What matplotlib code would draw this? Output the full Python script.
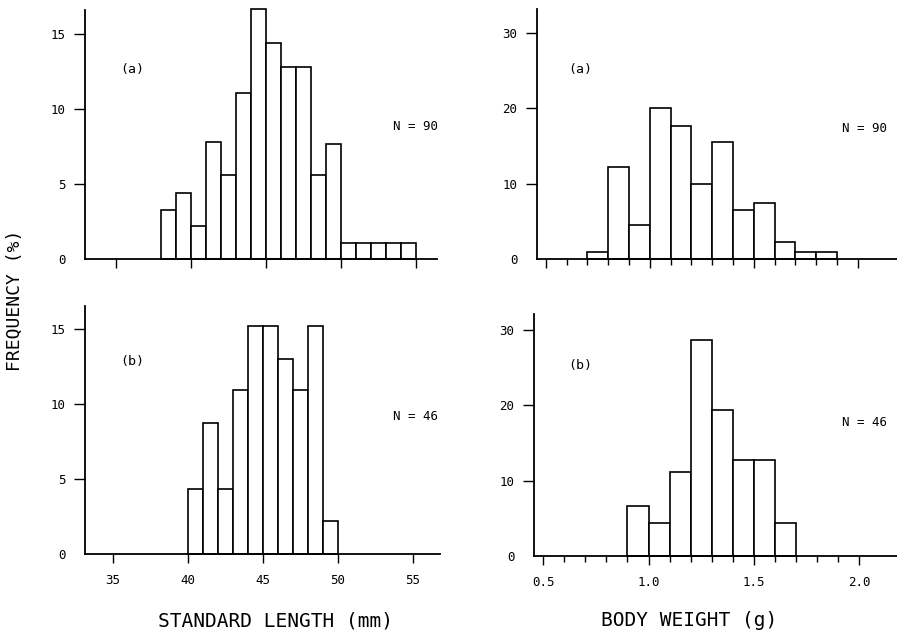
import matplotlib
matplotlib.use("Agg")
import matplotlib.pyplot as plt

# ---------------- data ----------------
# Standard length (mm), 1-mm classes (left edge of each class)
sl_bins_a = [38, 39, 40, 41, 42, 43, 44, 45, 46, 47, 48, 49, 50, 51, 52, 53, 54]
sl_freq_a = [3.3, 4.4, 2.2, 7.8, 5.6, 11.1, 16.7, 14.4, 12.8, 12.8, 5.6, 7.7,
             1.1, 1.1, 1.1, 1.1, 1.1]
sl_bins_b = [40, 41, 42, 43, 44, 45, 46, 47, 48, 49]
sl_freq_b = [4.3, 8.7, 4.3, 10.9, 15.2, 15.2, 13.0, 10.9, 15.2, 2.2]

# Body weight (g), 0.1-g classes (left edge of each class)
bw_bins_a = [0.7, 0.8, 0.9, 1.0, 1.1, 1.2, 1.3, 1.4, 1.5, 1.6, 1.7, 1.8]
bw_freq_a = [0.9, 12.2, 4.5, 20.0, 17.7, 9.9, 15.6, 6.5, 7.5, 2.2, 0.9, 0.9]
bw_bins_b = [0.9, 1.0, 1.1, 1.2, 1.3, 1.4, 1.5, 1.6]
bw_freq_b = [6.6, 4.4, 11.1, 28.6, 19.3, 12.8, 12.7, 4.4]

sl_ticks = [35, 40, 45, 50, 55]
sl_ticklabels = ["35", "40", "45", "50", "55"]
bw_ticks = [0.5, 1.0, 1.5, 2.0]
bw_ticklabels = ["0.5", "1.0", "1.5", "2.0"]
bw_minor = [0.6, 0.7, 0.8, 0.9, 1.1, 1.2, 1.3, 1.4, 1.6, 1.7, 1.8, 1.9]
sl_yticks = [0, 5, 10, 15]
bw_yticks = [0, 10, 20, 30]

panel_tags = ["(a)", "(b)"]
n_labels = ["N = 90", "N = 46"]

# ---------------- figure ----------------
W, H = 897, 641
fig = plt.figure(figsize=(W / 100, H / 100), dpi=100)
FONT = "DejaVu Sans Mono"
plt.rcParams["font.family"] = FONT


def px_axes(x0, x1, ytop, ybot):
    return fig.add_axes([x0 / W, 1 - ybot / H, (x1 - x0) / W, (ybot - ytop) / H])


def style(ax, xticks, xlabels, yticks, show_xlabels, minor=None):
    for s in ("top", "right"):
        ax.spines[s].set_visible(False)
    for s in ("left", "bottom"):
        ax.spines[s].set_linewidth(1.3)
    ax.set_yticks(yticks)
    ax.set_yticklabels([str(v) for v in yticks], fontsize=9)
    ax.set_xticks(xticks)
    if show_xlabels:
        ax.set_xticklabels(xlabels, fontsize=9)
    else:
        ax.set_xticklabels([])
    if minor is not None:
        ax.set_xticks(minor, minor=True)
        ax.tick_params(axis="x", which="minor", direction="out", length=4.5, width=1.0)
    ax.tick_params(axis="y", direction="out", length=8, width=1.0, pad=6)
    ax.tick_params(axis="x", which="major", direction="out", length=6.5, width=1.0, pad=8)
    ax.yaxis.get_major_ticks()[0].tick1line.set_visible(False)


bar_kw = dict(align="edge", facecolor="white", edgecolor="black", linewidth=1.2,
              clip_on=False)

# top-left
ax1 = px_axes(85, 437, 10, 259)
ax1.bar(sl_bins_a, sl_freq_a, width=1.0, **bar_kw)
ax1.set_xlim(32.93, 56.4)
ax1.set_ylim(0, 16.6)
style(ax1, sl_ticks, sl_ticklabels, sl_yticks, False)

# bottom-left
ax2 = px_axes(85, 440, 306, 554)
ax2.bar(sl_bins_b, sl_freq_b, width=1.0, **bar_kw)
ax2.set_xlim(33.13, 56.8)
ax2.set_ylim(0, 16.53)
style(ax2, sl_ticks, sl_ticklabels, sl_yticks, True)

# top-right
ax3 = px_axes(537, 897, 9, 259)
ax3.bar(bw_bins_a, bw_freq_a, width=0.1, **bar_kw)
ax3.set_xlim(0.458, 2.189)
ax3.set_ylim(0, 33.2)
style(ax3, bw_ticks, bw_ticklabels, bw_yticks, False, minor=bw_minor)

# bottom-right
ax4 = px_axes(534, 897, 314, 556)
ax4.bar(bw_bins_b, bw_freq_b, width=0.1, **bar_kw)
ax4.set_xlim(0.457, 2.178)
ax4.set_ylim(0, 32.1)
style(ax4, bw_ticks, bw_ticklabels, bw_yticks, True, minor=bw_minor)

# panel annotations
txt = dict(fontsize=9.5, va="center", ha="left")
ntxt = dict(fontsize=9, va="center", ha="left")
fig.text(120 / W, 1 - 69 / H, panel_tags[0], **txt)
fig.text(120 / W, 1 - 362 / H, panel_tags[1], **txt)
fig.text(568 / W, 1 - 69 / H, panel_tags[0], **txt)
fig.text(568 / W, 1 - 365 / H, panel_tags[1], **txt)
fig.text(393 / W, 1 - 127 / H, n_labels[0], **ntxt)
fig.text(393 / W, 1 - 417 / H, n_labels[1], **ntxt)
fig.text(842 / W, 1 - 129 / H, n_labels[0], **ntxt)
fig.text(842 / W, 1 - 423 / H, n_labels[1], **ntxt)

# axis titles
fig.text(15 / W, 1 - 300 / H, "FREQUENCY (%)", rotation=90, fontsize=13,
         va="center", ha="center")
fig.text(275 / W, 1 - 621 / H, "STANDARD LENGTH (mm)", fontsize=14,
         va="center", ha="center")
fig.text(689 / W, 1 - 621 / H, "BODY WEIGHT (g)", fontsize=14,
         va="center", ha="center")

fig.savefig("out.png", dpi=100)
